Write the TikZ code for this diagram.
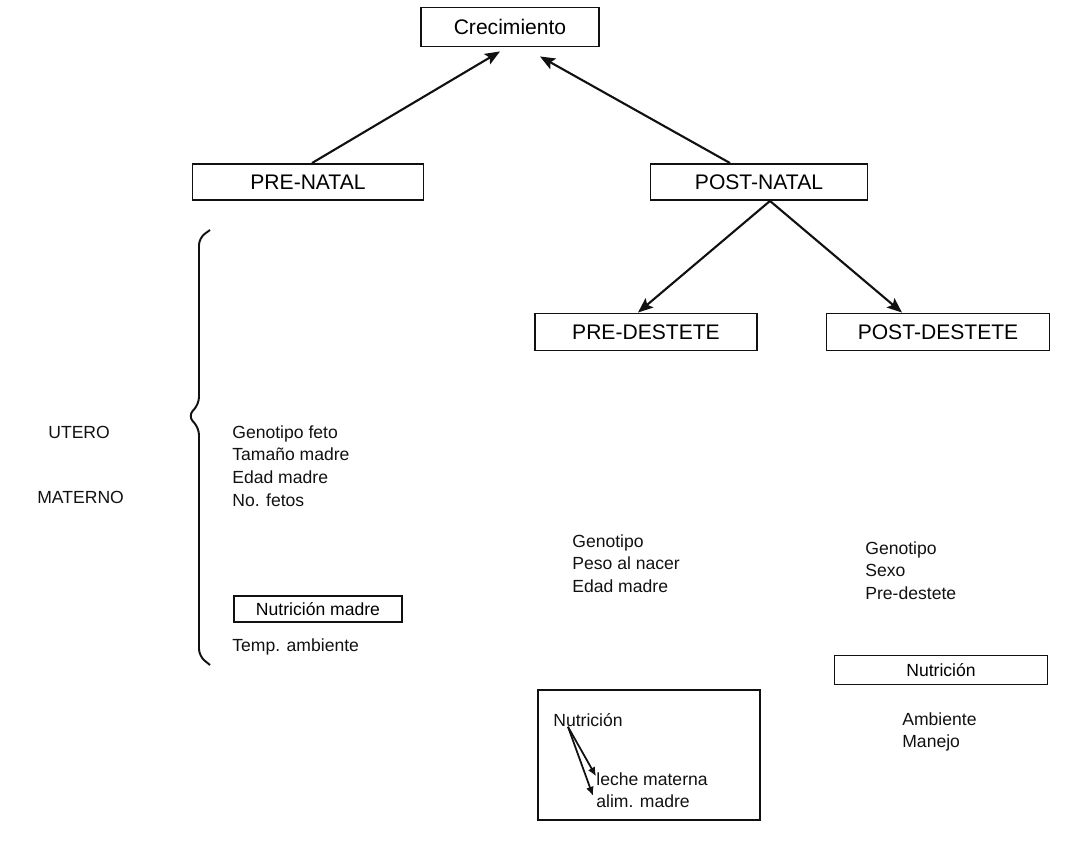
\documentclass[tikz,border=0pt]{standalone}
\usepackage{fontspec}
\setmainfont{Liberation Sans}
\usepackage{tikz}
\usetikzlibrary{arrows.meta,positioning}
\definecolor{growink}{HTML}{111111}
\tikzset{
  growbox/.style={
    rectangle,
    draw=growink,
    line width=1.1pt,
    inner sep=0pt,
    minimum width=4.5cm,
    minimum height=0.74cm,
    font=\fontsize{12}{14}\selectfont
  },
  growsmallbox/.style={growbox, font=\fontsize{10}{13}\selectfont},
  growlist/.style={
    align=left,
    anchor=north west,
    inner sep=0pt,
    text=growink,
    font=\fontsize{10}{13}\selectfont
  },
  growarrow/.style={-{Stealth[length=3mm,width=2.4mm,inset=0.6mm]}, line width=1.2pt, draw=growink},
  milkarrow/.style={-{Latex[length=1.8mm,width=1.6mm]}, line width=1pt, draw=growink}
}

\begin{document}
\begin{tikzpicture}[x=0.02cm, y=-0.02cm]
\useasboundingbox (0,0) rectangle (1073,852);
% main tree
\node[growbox, minimum width=3.56cm, minimum height=0.78cm] (crec) at (510,27) {Crecimiento};
\node[growbox, minimum width=4.62cm, minimum height=0.72cm] (prenatal) at (308,182) {PRE-NATAL};
\node[growbox, minimum width=4.34cm, minimum height=0.72cm] (postnatal) at (759,182) {POST-NATAL};
\node[growbox, minimum width=4.44cm] (predest) at (646,332) {PRE-DESTETE};
\node[growbox, minimum width=4.46cm] (postdest) at (938,332) {POST-DESTETE};
\draw[growarrow] ([xshift=0.08cm]prenatal.north) -- ([xshift=-0.2cm,yshift=-0.08cm]crec.south);
\draw[growarrow] ([xshift=-0.58cm]postnatal.north) -- ([xshift=0.6cm,yshift=-0.18cm]crec.south);
\draw[growarrow] ([xshift=0.22cm]postnatal.south) -- ([xshift=-0.16cm]predest.north);
\draw[growarrow] ([xshift=0.22cm]postnatal.south) -- ([xshift=-0.72cm]postdest.north);
% utero materno
\node[growlist] (utero) at (48,426) {UTERO};
\node[growlist] (materno) at (37,491) {MATERNO};
\node[growlist] (fetal) at (232,425) {Genotipo feto\\Tamaño madre\\Edad madre\\No. fetos};
\node[growsmallbox, minimum width=3.36cm, minimum height=0.52cm] (nutmadre) at (318,609) {Nutrición madre};
\node[growlist] (temp) at (232,638) {Temp. ambiente};
\draw[line width=1.1pt, draw=growink, rounded corners=4pt]
  (210,230) -- (199,238) -- (199,404) -- (188,416) -- (199,428) -- (199,656) -- (210,665);
% pre-destete
\node[growlist] (predlist) at (572,534) {Genotipo\\Peso al nacer\\Edad madre};
\node[growsmallbox, minimum width=4.44cm, minimum height=2.6cm] (lactbox) at (649,755) {};
\node[growlist] (nutlact) at (553,713) {Nutrición};
\node[growlist] (leche) at (596,772) {leche materna};
\node[growlist] (alim) at (596,794) {alim. madre};
\draw[milkarrow] ([xshift=0.3cm]nutlact.south west) -- ([yshift=0.05cm]leche.west);
\draw[milkarrow] ([xshift=0.3cm]nutlact.south west) -- ([xshift=-0.06cm,yshift=0.1cm]alim.west);
% post-destete
\node[growlist] (postlist) at (865,541) {Genotipo\\Sexo\\Pre-destete};
\node[growsmallbox, minimum width=4.26cm, minimum height=0.58cm] (nutpost) at (941,670) {Nutrición};
\node[growlist] (envlist) at (902,712) {Ambiente\\Manejo};
\end{tikzpicture}
\end{document}
